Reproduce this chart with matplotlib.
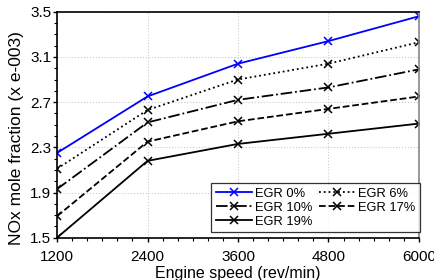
import matplotlib
matplotlib.use("Agg")
import matplotlib.pyplot as plt
from matplotlib.ticker import MultipleLocator

plt.rcParams['font.family'] = ['Liberation Sans', 'DejaVu Sans']

speed = [1200, 2400, 3600, 4800, 6000]
egr0 = [2.25, 2.75, 3.04, 3.24, 3.46]
egr6 = [2.11, 2.63, 2.90, 3.04, 3.23]
egr10 = [1.93, 2.52, 2.72, 2.83, 2.99]
egr17 = [1.69, 2.35, 2.53, 2.64, 2.75]
egr19 = [1.50, 2.18, 2.33, 2.42, 2.51]
labels = ['EGR 0%', 'EGR 6%', 'EGR 10%', 'EGR 17%', 'EGR 19%']

fig = plt.figure(figsize=(4.35, 2.8), dpi=100)
ax = fig.add_axes([57/435, 1-237.7/280, (419-57)/435, (237.7-11.7)/280])

series = [egr0, egr6, egr10, egr17, egr19]
styles = [('blue', '-'), ('black', ':'), ('black', '-.'), ('black', '--'), ('black', '-')]
handles = []
for vals, (c, ls), lab in zip(series, styles, labels):
    h, = ax.plot(speed, vals, color=c, linestyle=ls, linewidth=1.3, marker='x',
                 markersize=6, markeredgewidth=1.1, label=lab)
    handles.append(h)

ax.set_xlim(1200, 6000)
ax.set_ylim(1.5, 3.5)
ax.set_xticks(speed)
ax.set_yticks([1.5, 1.9, 2.3, 2.7, 3.1, 3.5])
ax.xaxis.set_minor_locator(MultipleLocator(200))
ax.yaxis.set_minor_locator(MultipleLocator(0.1))
ax.tick_params(axis='x', direction='out', labelsize=11, length=3, width=1, pad=6)
ax.tick_params(axis='y', direction='out', labelsize=11, length=3, width=1, pad=1)
ax.tick_params(which='minor', direction='out', length=2, width=0.8)
ax.grid(True, which='major', color='#cccccc', linestyle=':', linewidth=0.8)
for s in ax.spines.values():
    s.set_linewidth(1.2)
ax.spines['right'].set_color('#888888')

ax.set_xlabel('Engine speed (rev/min)', fontsize=11.5)
ax.xaxis.set_label_coords(0.5, -0.125)
ax.set_ylabel('NOx mole fraction (x e-003)', fontsize=12.5)
ax.yaxis.set_label_coords(-0.092, 0.44)

order = [0, 2, 4, 1, 3]
leg = ax.legend([handles[i] for i in order], [labels[i] for i in order],
                ncol=2, loc='lower right', fontsize=9.3, frameon=True, fancybox=False,
                edgecolor='black', handlelength=2.8, handletextpad=0.25,
                columnspacing=0.5, labelspacing=0.15, borderpad=0.35,
                borderaxespad=0, bbox_to_anchor=(1.003, 0.025))
leg.get_frame().set_linewidth(0.9)

fig.savefig('out.png', dpi=100)
